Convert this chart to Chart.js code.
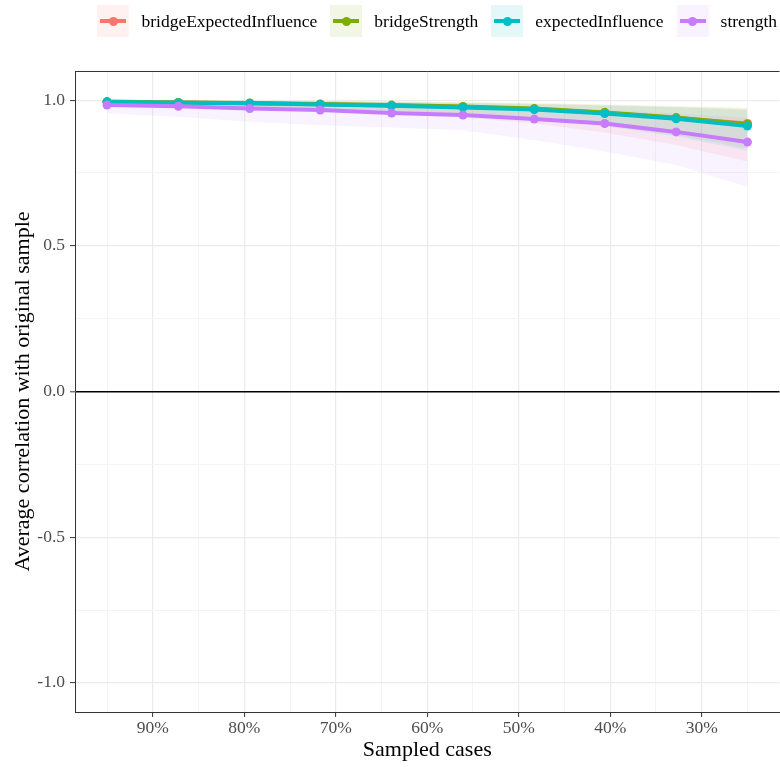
<!DOCTYPE html>
<html>
<head>
<meta charset="utf-8">
<script src="https://cdn.jsdelivr.net/npm/chart.js@4.4.0/dist/chart.umd.min.js"></script>
<style>
    body { margin: 0; background: #fff; overflow: hidden; }
    #wrap { position: relative; width: 780px; height: 767px; overflow: hidden; }
    #legend {
        position: absolute; top: 5px; right: 3px;
        display: flex; align-items: center;
        font-family: "Liberation Serif", serif; font-size: 17.5px; color: #000;
    }
    .item { display: flex; align-items: center; margin-left: 13px; }
    .key { position: relative; width: 32px; height: 32px; margin-right: 12px; }
    .key .ln { position: absolute; left: 3px; right: 3px; top: 14px; height: 4px; }
    .key .dt { position: absolute; left: 11.5px; top: 11.5px; width: 9px; height: 9px; border-radius: 50%; }
</style>
</head>
<body>
<div id="wrap">
    <canvas id="chart" width="784" height="767"></canvas>
    <div id="legend"></div>
</div>
<script>
        // Data: proporsi kasus yang diambil (persen)
        const sampledCases = [95, 87.2, 79.4, 71.7, 63.9, 56.1, 48.3, 40.6, 32.8, 25];

        const seriesNames = ['bridgeExpectedInfluence', 'bridgeStrength', 'expectedInfluence', 'strength'];
        const seriesColors = ['#F8766D', '#7CAE00', '#00BFC4', '#C77CFF'];

        // rata-rata korelasi
        const bridgeExpectedInfluence = [0.994, 0.992, 0.989, 0.986, 0.982, 0.977, 0.970, 0.957, 0.939, 0.920];
        const bridgeStrength = [0.995, 0.992, 0.990, 0.987, 0.983, 0.978, 0.971, 0.958, 0.940, 0.917];
        const expectedInfluence = [0.994, 0.991, 0.989, 0.985, 0.981, 0.975, 0.968, 0.954, 0.936, 0.911];
        const strength = [0.983, 0.979, 0.971, 0.966, 0.956, 0.949, 0.935, 0.920, 0.891, 0.856];

        // batas bawah / atas pita
        const bridgeExpectedInfluenceLow = [0.984, 0.978, 0.971, 0.963, 0.954, 0.940, 0.920, 0.889, 0.846, 0.789];
        const bridgeExpectedInfluenceHigh = [0.999, 0.998, 0.997, 0.996, 0.994, 0.991, 0.988, 0.983, 0.977, 0.970];
        const bridgeStrengthLow = [0.987, 0.982, 0.977, 0.971, 0.964, 0.954, 0.939, 0.913, 0.880, 0.834];
        const bridgeStrengthHigh = [0.999, 0.999, 0.998, 0.997, 0.995, 0.993, 0.990, 0.985, 0.980, 0.974];
        const expectedInfluenceLow = [0.986, 0.981, 0.976, 0.970, 0.963, 0.952, 0.937, 0.910, 0.875, 0.826];
        const expectedInfluenceHigh = [0.999, 0.998, 0.997, 0.996, 0.994, 0.991, 0.987, 0.982, 0.976, 0.966];
        const strengthLow = [0.955, 0.943, 0.926, 0.914, 0.906, 0.897, 0.863, 0.824, 0.777, 0.703];
        const strengthHigh = [0.995, 0.994, 0.991, 0.989, 0.985, 0.981, 0.975, 0.967, 0.955, 0.940];

        // tick
        const xGridValues = [25, 30, 35, 40, 45, 50, 55, 60, 65, 70, 75, 80, 85, 90, 95];
        const xLabelValues = [30, 40, 50, 60, 70, 80, 90];
        const yGridValues = [-1, -0.75, -0.5, -0.25, 0, 0.25, 0.5, 0.75, 1];
        const yLabelValues = [-1, -0.5, 0, 0.5, 1];

        const means = [bridgeExpectedInfluence, bridgeStrength, expectedInfluence, strength];
        const lows = [bridgeExpectedInfluenceLow, bridgeStrengthLow, expectedInfluenceLow, strengthLow];
        const highs = [bridgeExpectedInfluenceHigh, bridgeStrengthHigh, expectedInfluenceHigh, strengthHigh];

        function toPoints(values) {
            return sampledCases.map((x, i) => ({ x: x, y: values[i] }));
        }

        function alpha(hex, a) {
            const n = parseInt(hex.slice(1), 16);
            return 'rgba(' + (n >> 16) + ',' + ((n >> 8) & 255) + ',' + (n & 255) + ',' + a + ')';
        }

        const serif = 'Liberation Serif';
        const drawOrder = [3, 2, 1, 0]; // strength paling atas

        const datasets = [];
        drawOrder.forEach(s => {
            datasets.push({
                label: seriesNames[s],
                data: toPoints(means[s]),
                borderColor: seriesColors[s],
                backgroundColor: seriesColors[s],
                borderWidth: 4,
                pointRadius: 4.5,
                pointBorderWidth: 0,
                pointBackgroundColor: seriesColors[s],
                fill: false,
                tension: 0
            });
        });
        drawOrder.forEach(s => {
            const lowIndex = datasets.length;
            datasets.push({
                data: toPoints(lows[s]),
                borderWidth: 0,
                pointRadius: 0,
                fill: false
            });
            datasets.push({
                data: toPoints(highs[s]),
                borderWidth: 0,
                pointRadius: 0,
                backgroundColor: alpha(seriesColors[s], 0.1),
                fill: { target: lowIndex }
            });
        });

        const isXMajor = v => xLabelValues.includes(v);
        const isYMajor = v => yLabelValues.includes(v);

        // garis tepi panel
        const panelBorder = {
            id: 'panelBorder',
            afterDatasetsDraw(chart) {
                const { ctx, chartArea: a } = chart;
                ctx.save();
                ctx.strokeStyle = '#333333';
                ctx.lineWidth = 1;
                ctx.beginPath();
                ctx.moveTo(a.left, a.top + 0.5);
                ctx.lineTo(a.right, a.top + 0.5);
                ctx.stroke();
                ctx.restore();
            }
        };

        new Chart(document.getElementById('chart'), {
            type: 'line',
            data: { datasets: datasets },
            plugins: [panelBorder],
            options: {
                responsive: false,
                animation: false,
                layout: { padding: { top: 71, right: 2, left: 0, bottom: 0 } },
                plugins: {
                    legend: { display: false },
                    tooltip: { enabled: false },
                    filler: { drawTime: 'beforeDatasetsDraw' }
                },
                scales: {
                    x: {
                        type: 'linear',
                        reverse: true,
                        min: 21.5,
                        max: 98.5,
                        afterBuildTicks: s => { s.ticks = xGridValues.map(v => ({ value: v })); },
                        afterFit: s => { s.height = 55; },
                        ticks: {
                            autoSkip: false,
                            maxRotation: 0,
                            padding: 1,
                            color: '#4D4D4D',
                            font: { family: serif, size: 17.5 },
                            callback: v => isXMajor(v) ? v + '%' : ''
                        },
                        grid: {
                            color: c => isXMajor(c.tick.value) ? '#EBEBEB' : '#F4F4F4',
                            lineWidth: c => isXMajor(c.tick.value) ? 1.2 : 1,
                            tickColor: c => isXMajor(c.tick.value) ? '#333333' : 'rgba(0,0,0,0)',
                            tickLength: 5,
                            tickWidth: 1
                        },
                        border: { color: '#333333', width: 1 },
                        title: {
                            display: true,
                            text: 'Sampled cases',
                            color: '#000',
                            font: { family: serif, size: 22 },
                            padding: { top: 0, bottom: 4 }
                        }
                    },
                    y: {
                        min: -1.1,
                        max: 1.1,
                        afterBuildTicks: s => { s.ticks = yGridValues.map(v => ({ value: v })); },
                        afterFit: s => { s.width = 75; },
                        ticks: {
                            autoSkip: false,
                            padding: 5,
                            color: '#4D4D4D',
                            font: { family: serif, size: 17.5 },
                            callback: v => isYMajor(v) ? v.toFixed(1) : ''
                        },
                        grid: {
                            color: c => c.tick.value === 0 ? '#000000' : (isYMajor(c.tick.value) ? '#EBEBEB' : '#F4F4F4'),
                            lineWidth: c => c.tick.value === 0 ? 1.6 : (isYMajor(c.tick.value) ? 1.2 : 1),
                            tickColor: c => isYMajor(c.tick.value) ? '#333333' : 'rgba(0,0,0,0)',
                            tickLength: 5,
                            tickWidth: 1
                        },
                        border: { color: '#333333', width: 1 },
                        title: {
                            display: true,
                            text: 'Average correlation with original sample',
                            color: '#000',
                            font: { family: serif, size: 22 },
                            padding: { top: 10, bottom: 0 }
                        }
                    }
                }
            }
        });

        // legenda
        const legend = document.getElementById('legend');
        seriesNames.forEach((name, i) => {
            const item = document.createElement('div');
            item.className = 'item';
            const key = document.createElement('div');
            key.className = 'key';
            key.style.background = alpha(seriesColors[i], 0.1);
            const ln = document.createElement('div');
            ln.className = 'ln';
            ln.style.background = seriesColors[i];
            const dt = document.createElement('div');
            dt.className = 'dt';
            dt.style.background = seriesColors[i];
            key.appendChild(ln);
            key.appendChild(dt);
            const label = document.createElement('span');
            label.textContent = name;
            item.appendChild(key);
            item.appendChild(label);
            legend.appendChild(item);
        });
</script>
</body>
</html>
